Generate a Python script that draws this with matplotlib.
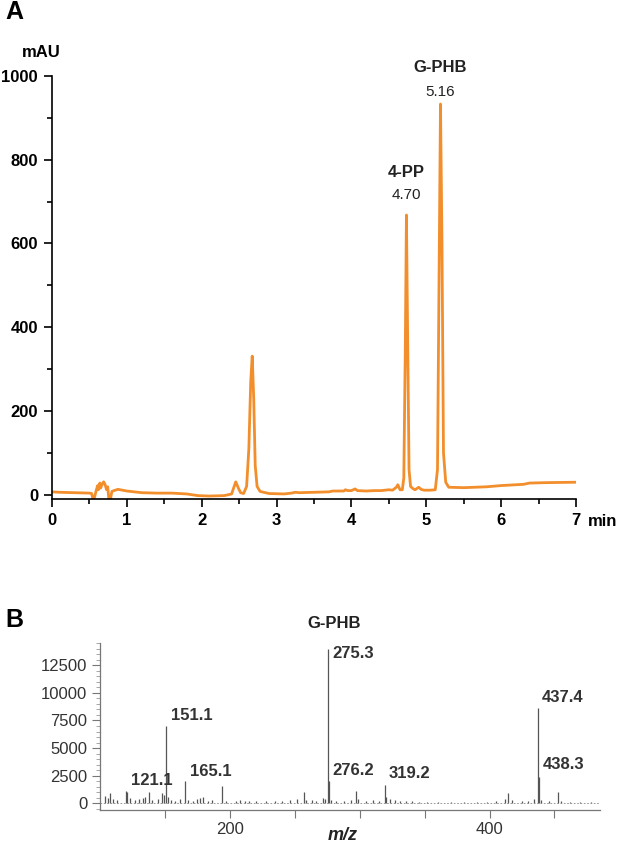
import matplotlib
matplotlib.use('Agg')
import matplotlib.pyplot as plt
from matplotlib.ticker import MultipleLocator

plt.rcParams['font.family'] = ['Liberation Sans', 'DejaVu Sans']

# --- panel A: HPLC chromatogram (time in min, signal in mAU)
t_min = [0.00, 0.10, 0.30, 0.50, 0.53, 0.55, 0.57, 0.59, 0.61, 0.62, 0.64, 0.65,
         0.67, 0.69, 0.71, 0.73, 0.745, 0.76, 0.78, 0.80, 0.83, 0.88, 1.00, 1.10,
         1.20, 1.40, 1.60, 1.80, 1.95, 2.10, 2.30, 2.40, 2.43, 2.455, 2.49, 2.52,
         2.56, 2.60, 2.63, 2.655, 2.675, 2.695, 2.715, 2.74, 2.78, 2.90, 3.10, 3.20,
         3.25, 3.30, 3.50, 3.70, 3.75, 3.90, 3.92, 3.95, 4.00, 4.05, 4.08, 4.20,
         4.30, 4.40, 4.50, 4.55, 4.60, 4.62, 4.65, 4.68, 4.70, 4.72, 4.735, 4.75,
         4.77, 4.79, 4.82, 4.85, 4.90, 4.93, 4.97, 5.05, 5.12, 5.15, 5.17, 5.19,
         5.21, 5.23, 5.26, 5.30, 5.50, 5.80, 6.00, 6.30, 6.38, 6.60, 7.00]
mau = [7, 6, 5, 4, 3, -12, -5, 10, 22, 12, 28, 16,
       25, 31, 24, 12, 19, -12, -12, 8, 10, 13, 9, 7,
       5, 4, 4, 2, -2, -3, -2, 2, 18, 31, 16, 5,
       3, 20, 110, 270, 331, 230, 70, 20, 8, 3, 2, 4,
       6, 5, 6, 7, 9, 9, 12, 10, 10, 14, 10, 9,
       10, 10, 12, 11, 18, 24, 12, 12, 40, 350, 668, 400,
       60, 20, 15, 12, 18, 13, 11, 11, 12, 60, 500, 933,
       600, 100, 30, 18, 17, 19, 22, 25, 28, 29, 30]

peak_names = ['4-PP', 'G-PHB']
peak_rt = ['4.70', '5.16']
peak_t = [4.735, 5.19]
peak_h = [668, 933]
# label offsets in pixels above the peak top: (retention time, name)
peak_offsets = [(20, 43), (12, 37)]

# --- panel B: mass spectrum (m/z, intensity)
mz = [103.8, 106, 108, 110, 113, 120, 121.1, 123, 127, 130, 133, 135, 137.7, 140,
      145, 147.7, 149, 151.1, 152, 155, 158, 161.5, 165.1, 168, 172, 175, 177, 179,
      183, 186, 193.8, 197, 205, 208, 212, 215, 220, 228, 235, 240, 246, 252, 257,
      259, 263, 266, 271.5, 273, 275.3, 276.2, 278, 282, 288, 293, 297, 299, 305,
      310, 315, 319.2, 320.5, 323, 327, 331, 336, 340, 346, 352, 360, 370, 380, 390,
      398, 405, 412, 414.6, 417, 425, 430, 434, 437.4, 438.3, 440, 446, 453, 455,
      462, 470, 478]
intensity = [700, 500, 900, 400, 300, 1100, 1000, 500, 300, 400, 500, 600, 1000, 300,
             400, 900, 800, 7000, 600, 300, 200, 400, 2000, 300, 200, 400, 500, 600,
             200, 300, 1600, 200, 200, 300, 200, 250, 200, 200, 200, 250, 300, 400, 1000,
             300, 300, 200, 500, 400, 14000, 2000, 300, 200, 250, 300, 1100, 400, 200,
             300, 250, 1700, 600, 400, 300, 250, 200, 200, 150, 150, 150, 150, 150, 150,
             150, 200, 400, 900, 300, 200, 250, 350, 8600, 2400, 300, 200, 1000, 200,
             150, 150, 150]

ms_labels = ['121.1', '151.1', '165.1', '275.3', '276.2', '319.2', '437.4', '438.3']
ms_label_mz = [121.1, 151.1, 165.1, 275.3, 276.2, 319.2, 437.4, 438.3]
ms_label_h = [1000, 7000, 2000, 14000, 2000, 1700, 8600, 2400]
# label offsets in pixels (dx, dy) from the peak top
ms_offsets = [(4, 12), (5, 11), (5, 10), (5, -5), (4, 11), (4, 11), (4, 11), (4, 12)]

orange = '#f28e2b'
fig = plt.figure(figsize=(6.21, 8.44), dpi=100)

# ---------- A
ax = fig.add_axes([0.0837, 0.4088, 0.8438, 0.5012])
ax.plot(t_min, mau, color=orange, lw=2)
ax.set_xlim(0, 7)
ax.set_ylim(-10, 1000)
for s in ['top', 'right']:
    ax.spines[s].set_visible(False)
for s in ['left', 'bottom']:
    ax.spines[s].set_linewidth(1.2)
ax.xaxis.set_major_locator(MultipleLocator(1))
ax.xaxis.set_minor_locator(MultipleLocator(0.5))
ax.yaxis.set_major_locator(MultipleLocator(200))
ax.yaxis.set_minor_locator(MultipleLocator(100))
ax.tick_params(which='major', length=6, width=1.2, labelsize=12, pad=4)
ax.tick_params(which='minor', length=3.5, width=1.2)
for lab in ax.get_xticklabels() + ax.get_yticklabels():
    lab.set_fontweight('bold')
ax.text(-0.02, 1.055, 'mAU', transform=ax.transAxes, ha='center', va='center',
        fontsize=12, fontweight='bold')
ax.text(1.023, -0.053, 'min', transform=ax.transAxes, ha='left', va='center',
        fontsize=12, fontweight='bold')
for name, rt, t, h, (d1, d2) in zip(peak_names, peak_rt, peak_t, peak_h, peak_offsets):
    ax.annotate(rt, (t, h), xytext=(0, d1), textcoords='offset pixels',
                ha='center', va='center', fontsize=11, color='#222222')
    ax.annotate(name, (t, h), xytext=(0, d2), textcoords='offset pixels',
                ha='center', va='center', fontsize=12, fontweight='bold',
                color='#222222')
fig.text(0.008, 0.986, 'A', fontsize=18, fontweight='bold', va='center', ha='left')

# ---------- B
gray = '#555555'
bx = fig.add_axes([0.161, 0.0403, 0.805, 0.1977])
bx.vlines(mz, 0, intensity, color=gray, lw=0.9)
bx.axhline(60, color='#888888', lw=0.6, ls=(0, (2, 2)))
bx.set_xlim(100, 485)
bx.set_ylim(-600, 14500)
for s in ['top', 'right']:
    bx.spines[s].set_visible(False)
for s in ['left', 'bottom']:
    bx.spines[s].set_color('#777777')
    bx.spines[s].set_linewidth(0.9)
bx.set_xticks([150, 200, 250, 300, 350, 400, 450])
bx.set_xticklabels(['', '200', '', '', '', '400', ''])
bx.yaxis.set_minor_locator(MultipleLocator(500))
bx.set_yticks([0, 2500, 5000, 7500, 10000, 12500])
bx.tick_params(which='major', length=6, width=0.8, color='#777777', labelsize=12,
               labelcolor='#333333', pad=3)
bx.tick_params(which='minor', length=3, width=0.6, color='#999999')
for lab, m, h, (dx, dy) in zip(ms_labels, ms_label_mz, ms_label_h, ms_offsets):
    bx.annotate(lab, (m, h), xytext=(dx, dy), textcoords='offset pixels',
                ha='left', va='center', fontsize=12, fontweight='bold', color='#333333')
bx.text(0.469, 1.12, 'G-PHB', transform=bx.transAxes, ha='center', va='center',
        fontsize=12, fontweight='bold', color='#222222')
bx.text(0.486, -0.15, 'm/z', transform=bx.transAxes, ha='center', va='center',
        fontsize=13, fontweight='bold', style='italic', color='#222222')
fig.text(0.008, 0.265, 'B', fontsize=18, fontweight='bold', va='center', ha='left')

fig.savefig('out.png', dpi=100)
